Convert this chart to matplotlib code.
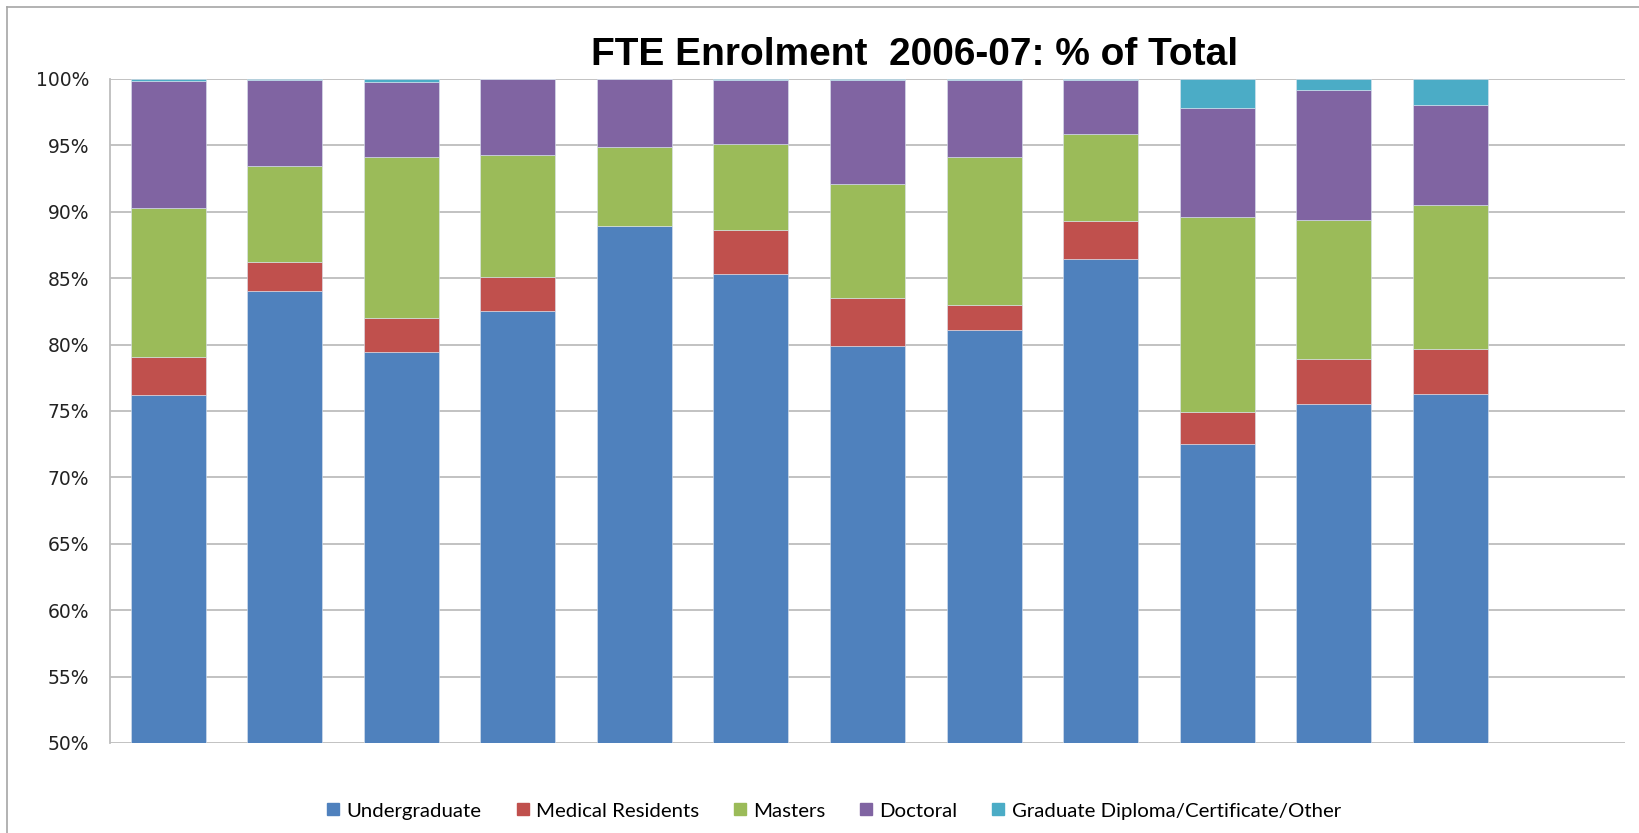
import numpy as np
import matplotlib
matplotlib.use("Agg")
from matplotlib import pyplot as plt
from matplotlib.lines import Line2D
from matplotlib.ticker import FuncFormatter

# one bar per institution (no labels shown on the original), values in % of total FTE
n_bars = 12
undergraduate = [76.2, 84.0, 79.4, 82.5, 88.9, 85.35, 79.9, 81.1, 86.5, 72.55, 75.55, 76.3]
medical_residents = [2.85, 2.2, 2.6, 2.6, 0.0, 3.27, 3.6, 1.9, 2.8, 2.35, 3.4, 3.4]
masters = [11.2, 7.2, 12.1, 9.2, 5.9, 6.5, 8.6, 11.15, 6.55, 14.7, 10.45, 10.8]
doctoral = [9.6, 6.5, 5.65, 5.7, 5.15, 4.8, 7.8, 5.75, 4.1, 8.2, 9.8, 7.55]
other = [0.13, 0.08, 0.23, 0.0, 0.0, 0.08, 0.1, 0.1, 0.08, 2.2, 0.8, 1.95]

series = ["Undergraduate", "Medical Residents", "Masters", "Doctoral",
          "Graduate Diploma/Certificate/Other"]
colors = ["#4F81BD", "#C0504D", "#9BBB59", "#8064A2", "#4BACC6"]
yticks = [50, 55, 60, 65, 70, 75, 80, 85, 90, 95, 100]

values = np.array([undergraduate, medical_residents, masters, doctoral, other])
values = values / values.sum(axis=0) * 100  # each bar sums to 100%

fig = plt.figure(figsize=(16.4, 8.33), dpi=100)
ax = fig.add_axes([110 / 1640, 90 / 833, 1515 / 1640, 664 / 833])

x = np.arange(n_bars)
bottom = np.zeros(n_bars)
for name, vals, c in zip(series, values, colors):
    ax.bar(x, vals, width=0.6435, bottom=bottom, color=c, label=name,
           edgecolor="#dbe4f0", linewidth=0.4, zorder=3)
    bottom += vals

ax.set_xlim(-0.5, 12.5)
ax.set_ylim(50, 100)
ax.set_yticks(yticks)
ax.yaxis.set_major_formatter(FuncFormatter(lambda v, p: f"{v:.0f}%"))
ax.set_xticks([])
ax.tick_params(axis="y", length=0, pad=15, labelsize=13.5, labelcolor="#222222")
ax.grid(axis="y", color="#bdbdbd", linewidth=1.3, zorder=0)
for side in ["top", "right", "bottom"]:
    ax.spines[side].set_visible(False)
ax.spines["left"].set_color("#bdbdbd")
ax.spines["left"].set_linewidth(1.3)

fig.text(915 / 1640, 1 - 55 / 833, "FTE Enrolment  2006-07: % of Total",
         ha="center", va="center", fontsize=28, fontweight="bold",
         family="Liberation Sans")

handles = [Line2D([], [], marker="s", linestyle="none", markersize=8,
                  markerfacecolor=c, markeredgecolor=c) for c in colors]
fig.legend(handles, series, loc="center", bbox_to_anchor=(834 / 1640, 1 - 811 / 833),
           ncol=5, frameon=False, handlelength=0.6, handletextpad=0.35,
           columnspacing=1.7, prop={"family": "Lato", "size": 14.7})

# outer chart frame
fig.add_artist(Line2D([7 / 1640, 1], [1 - 7 / 833, 1 - 7 / 833],
                      transform=fig.transFigure, color="#a6a6a6", linewidth=1.2))
fig.add_artist(Line2D([7 / 1640, 7 / 1640], [0, 1 - 7 / 833],
                      transform=fig.transFigure, color="#a6a6a6", linewidth=1.2))

fig.savefig("out.png", dpi=100)
